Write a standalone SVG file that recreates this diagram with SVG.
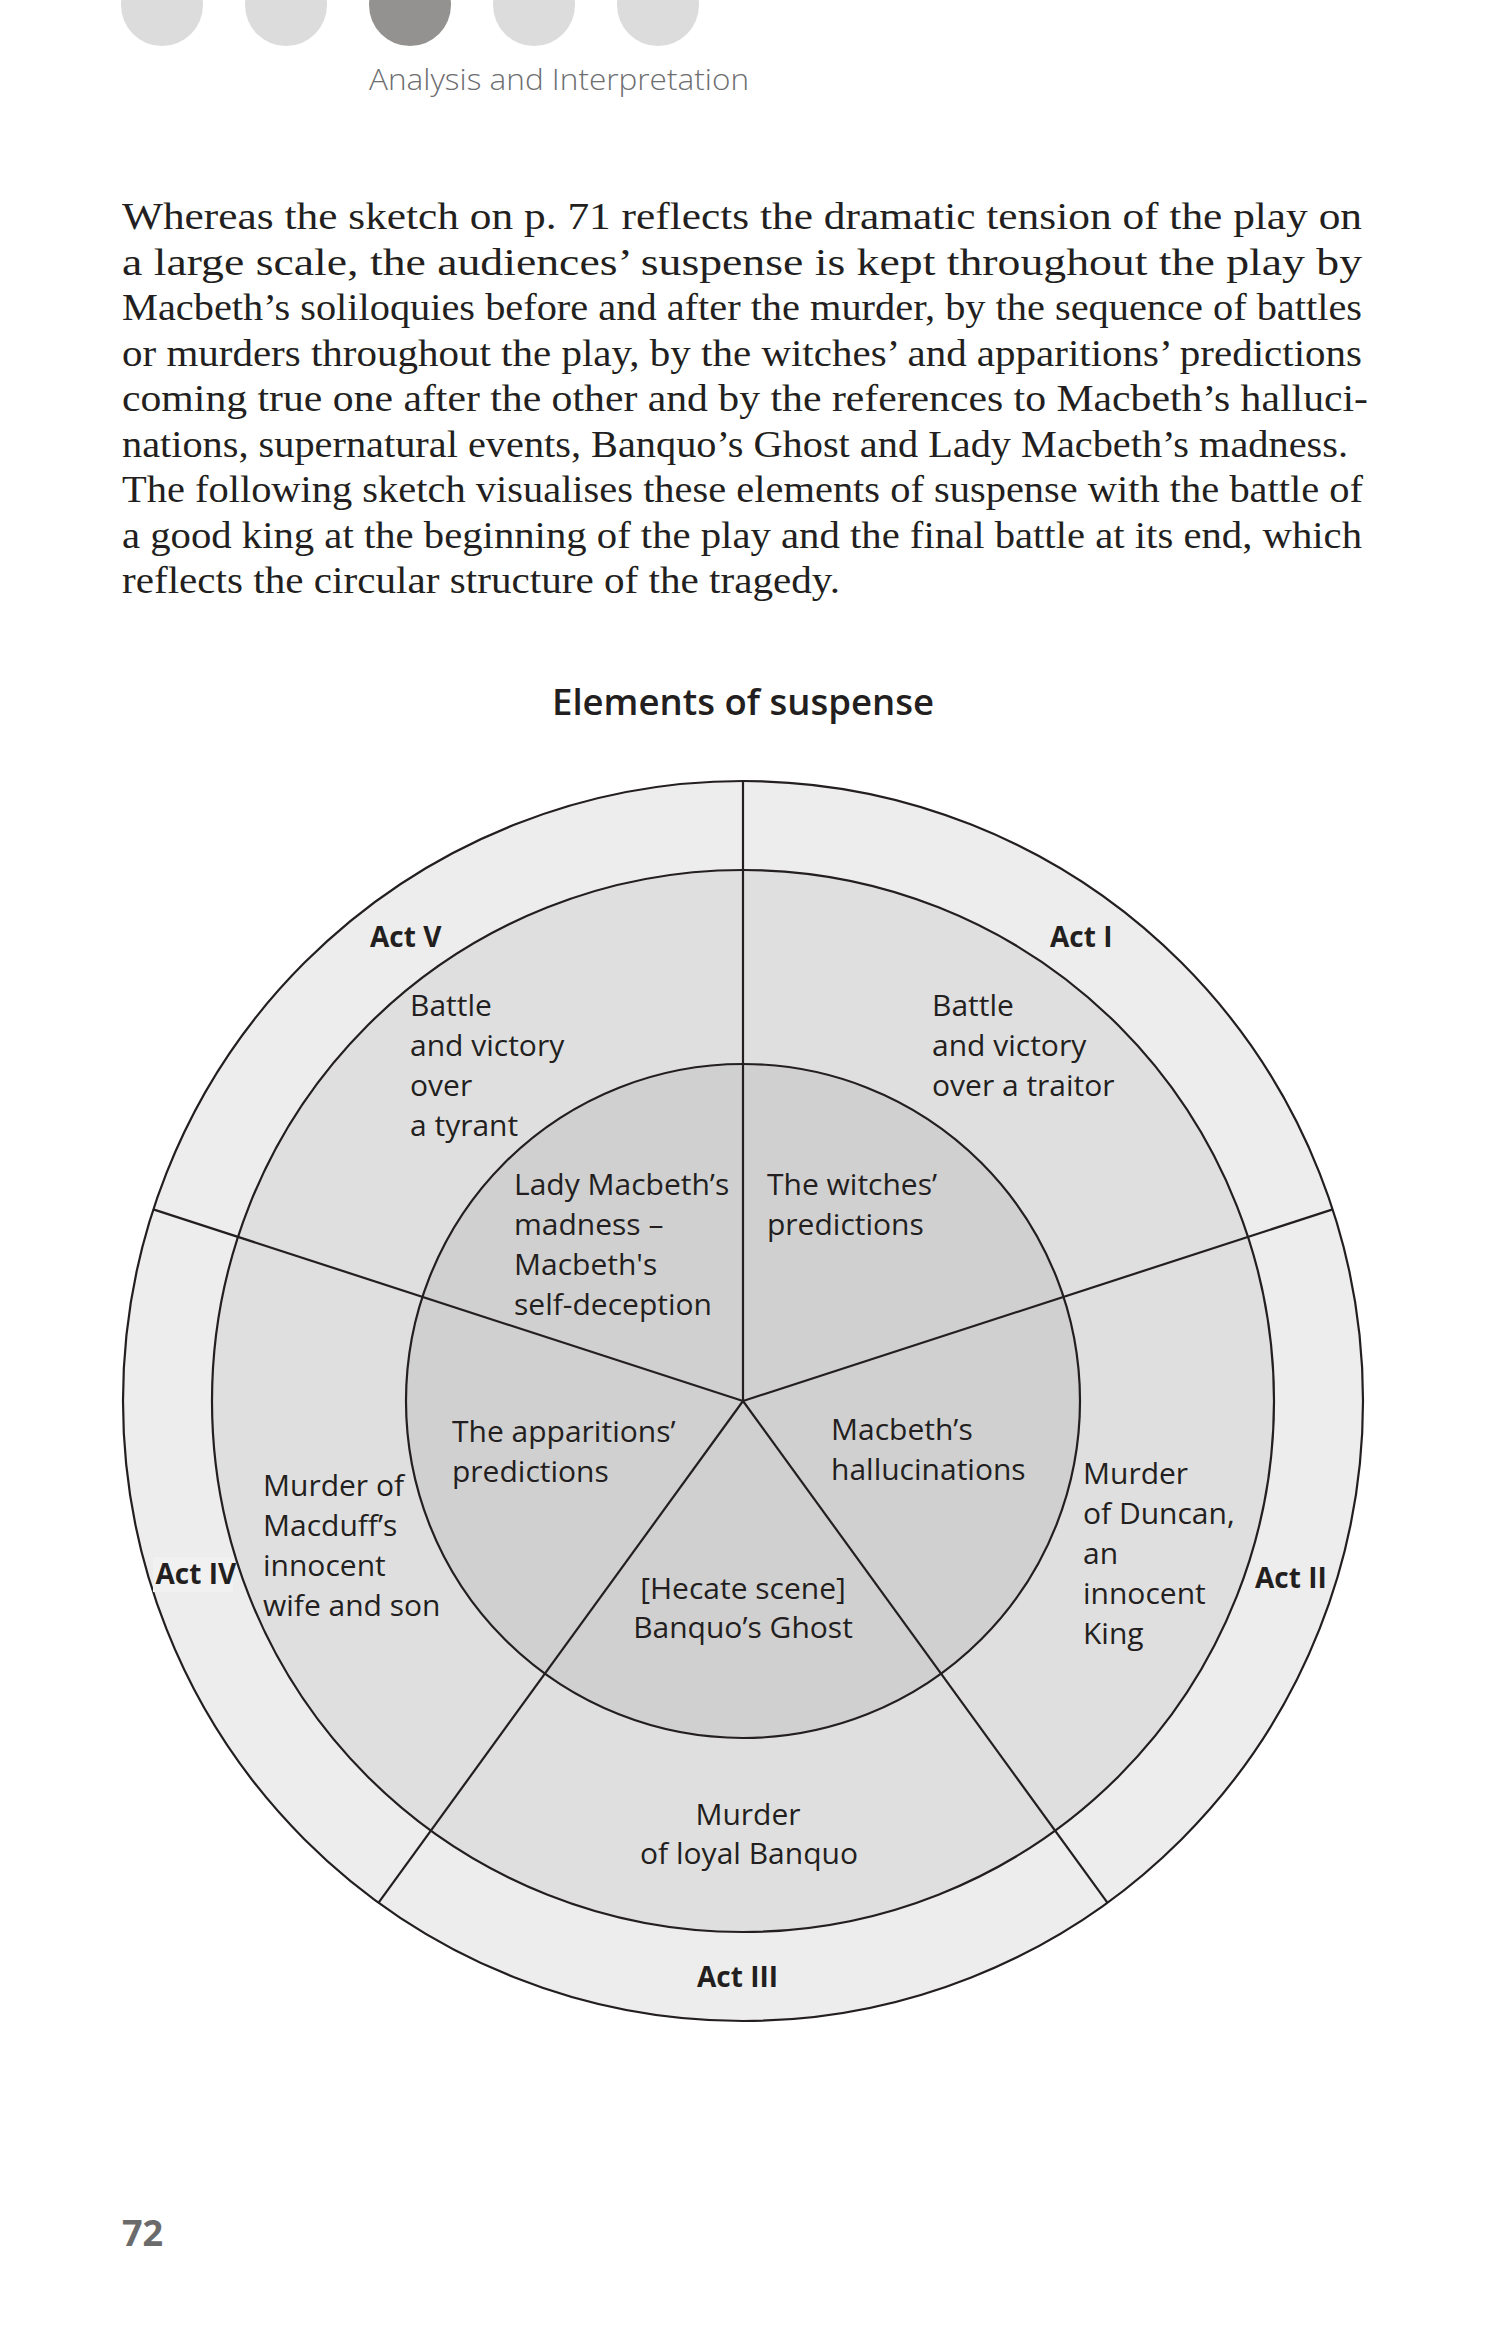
<svg xmlns="http://www.w3.org/2000/svg" width="1502" height="2339" viewBox="0 0 1502 2339">
<style>
.body{font-family:"Liberation Serif","Times New Roman",serif;font-size:37px;fill:#231f20}
.lab{font-family:"Open Sans","Noto Sans",sans-serif;font-size:30px;fill:#231f20}
.act{font-family:"Open Sans","Noto Sans",sans-serif;font-size:28px;font-weight:700;fill:#231f20}
.ln{stroke:#231f20;stroke-width:2.2;fill:none}
.mid{text-anchor:middle}
</style>
<rect width="1502" height="2339" fill="#ffffff"/>
<g id="header">
<circle cx="162" cy="5" r="41" fill="#dcdcdc"/>
<circle cx="286" cy="5" r="41" fill="#dcdcdc"/>
<circle cx="410" cy="5" r="41" fill="#939291"/>
<circle cx="534" cy="5" r="41" fill="#dcdcdc"/>
<circle cx="658" cy="5" r="41" fill="#dcdcdc"/>
<text x="369" y="90" font-family="Open Sans, Noto Sans, sans-serif" font-size="30" font-weight="300" fill="#6d6e70" textLength="380" lengthAdjust="spacingAndGlyphs">Analysis and Interpretation</text>
</g>
<g id="paragraph" class="body">
<text x="122" y="229" textLength="1240" lengthAdjust="spacingAndGlyphs">Whereas the sketch on p. 71 reflects the dramatic tension of the play on</text>
<text x="122" y="274.5" textLength="1240" lengthAdjust="spacingAndGlyphs">a large scale, the audiences’ suspense is kept throughout the play by</text>
<text x="122" y="320" textLength="1240" lengthAdjust="spacingAndGlyphs">Macbeth’s soliloquies before and after the murder, by the sequence of battles</text>
<text x="122" y="365.5" textLength="1240" lengthAdjust="spacingAndGlyphs">or murders throughout the play, by the witches’ and apparitions’ predictions</text>
<text x="122" y="411" textLength="1246" lengthAdjust="spacingAndGlyphs">coming true one after the other and by the references to Macbeth’s halluci-</text>
<text x="122" y="456.5" textLength="1226" lengthAdjust="spacingAndGlyphs">nations, supernatural events, Banquo’s Ghost and Lady Macbeth’s madness.</text>
<text x="122" y="502" textLength="1241" lengthAdjust="spacingAndGlyphs">The following sketch visualises these elements of suspense with the battle of</text>
<text x="122" y="547.5" textLength="1240" lengthAdjust="spacingAndGlyphs">a good king at the beginning of the play and the final battle at its end, which</text>
<text x="122" y="593" textLength="718" lengthAdjust="spacingAndGlyphs">reflects the circular structure of the tragedy.</text>
</g>
<text id="title" x="743" y="715" class="mid" font-family="Open Sans, Noto Sans, sans-serif" font-size="36" font-weight="600" fill="#231f20" textLength="382" lengthAdjust="spacingAndGlyphs">Elements of suspense</text>
<g id="rings">
<circle id="ring-acts" cx="743" cy="1401" r="620" fill="#eeeded" class="ln" style="fill:#eeeded"/>
<circle id="ring-events" cx="743" cy="1401" r="531" fill="#e0dfdf" class="ln" style="fill:#e0dfdf"/>
<circle id="ring-suspense" cx="743" cy="1401" r="337" fill="#d1d0d0" class="ln" style="fill:#d1d0d0"/>
</g>
<g id="connectors" class="ln">
<line x1="743" y1="1401" x2="743" y2="781"/>
<line x1="743" y1="1401" x2="1332.7" y2="1209.4"/>
<line x1="743" y1="1401" x2="1107.4" y2="1902.6"/>
<line x1="743" y1="1401" x2="378.6" y2="1902.6"/>
<line x1="743" y1="1401" x2="153.3" y2="1209.4"/>
</g>
<g id="act1">
<text class="act" x="1050" y="946.5">Act I</text>
<text class="lab" x="932" y="1016">Battle</text>
<text class="lab" x="932" y="1056">and victory</text>
<text class="lab" x="932" y="1096">over a traitor</text>
<text class="lab" x="767" y="1194.5">The witches’</text>
<text class="lab" x="767" y="1234.5">predictions</text>
</g>
<g id="act2">
<text class="act" x="1255" y="1587.5">Act II</text>
<text class="lab" x="1083" y="1484">Murder</text>
<text class="lab" x="1083" y="1524">of Duncan,</text>
<text class="lab" x="1083" y="1564">an</text>
<text class="lab" x="1083" y="1604">innocent</text>
<text class="lab" x="1083" y="1644">King</text>
<text class="lab" x="831" y="1440">Macbeth’s</text>
<text class="lab" x="831" y="1480">hallucinations</text>
</g>
<g id="act3">
<text class="act" x="697" y="1987">Act III</text>
<text class="lab mid" x="748" y="1825">Murder</text>
<text class="lab mid" x="749" y="1864">of loyal Banquo</text>
<text class="lab mid" x="743" y="1599">[Hecate scene]</text>
<text class="lab mid" x="743" y="1637.5">Banquo’s Ghost</text>
</g>
<g id="act4">
<rect x="153" y="1557" width="80" height="35" fill="#f1f1f1"/>
<text class="act" x="155.5" y="1584">Act IV</text>
<text class="lab" x="263" y="1496">Murder of</text>
<text class="lab" x="263" y="1536">Macduff’s</text>
<text class="lab" x="263" y="1576">innocent</text>
<text class="lab" x="263" y="1616">wife and son</text>
<text class="lab" x="452" y="1442">The apparitions’</text>
<text class="lab" x="452" y="1482">predictions</text>
</g>
<g id="act5">
<text class="act" x="370" y="946.5">Act V</text>
<text class="lab" x="410" y="1016">Battle</text>
<text class="lab" x="410" y="1056">and victory</text>
<text class="lab" x="410" y="1096">over</text>
<text class="lab" x="410" y="1136">a tyrant</text>
<text class="lab" x="514" y="1195">Lady Macbeth’s</text>
<text class="lab" x="514" y="1235">madness –</text>
<text class="lab" x="514" y="1275">Macbeth's</text>
<text class="lab" x="514" y="1315">self-deception</text>
</g>
<text id="page-number" x="122" y="2245.5" font-family="Open Sans, Noto Sans, sans-serif" font-size="36" font-weight="700" fill="#6b6b6b">72</text>
</svg>
